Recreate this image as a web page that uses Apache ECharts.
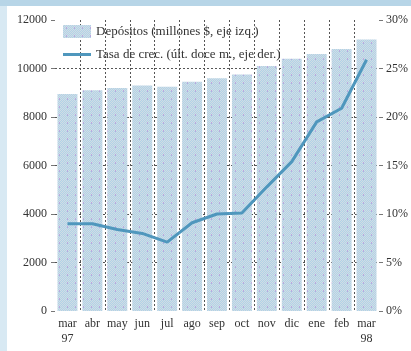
<!DOCTYPE html>
<html>
<head>
<meta charset="utf-8">
<script src="https://cdn.jsdelivr.net/npm/echarts@6/dist/echarts.min.js"></script>
<style>
  html, body { margin: 0; padding: 0; background: #ffffff; }
  #chart { width: 411px; height: 351px; }
</style>
</head>
<body>
<div id="chart"></div>
<script>
// Months from March 1997 to March 1998
const meses = ['mar\n97', 'abr', 'may', 'jun', 'jul', 'ago', 'sep', 'oct', 'nov', 'dic', 'ene', 'feb', 'mar\n98'];
// Deposits, millions of $ (left axis)
const depositos = [8950, 9100, 9200, 9300, 9250, 9450, 9600, 9750, 10100, 10400, 10600, 10800, 11200];
// Growth rate, % (right axis)
const crecimiento = [9.0, 9.0, 8.4, 8.0, 7.1, 9.1, 10.0, 10.1, 12.8, 15.4, 19.5, 20.9, 25.9];

const serieDepositos = 'Depósitos (millones $, eje izq.)';
const serieTasa = 'Tasa de crec. (últ. doce m., eje der.)';

// Small stippled tile used to fill the bars
function tramaBarras() {
  const c = document.createElement('canvas');
  c.width = 8; c.height = 8;
  const g = c.getContext('2d');
  for (let y = 0; y < 8; y++) {
    for (let x = 0; x < 8; x++) {
      g.fillStyle = ((x + y) % 2) ? '#b0d3e8' : '#d2dce4';
      g.fillRect(x, y, 1, 1);
    }
  }
  g.fillStyle = '#b9a9de';
  g.fillRect(3, 2, 1, 2);
  return c;
}

const serif = '"Liberation Serif", "DejaVu Serif", serif';
const colorTasa = '#4f97bd';
const guia = { color: '#555555', width: 1, type: [2, 2] };
const chart = echarts.init(document.getElementById('chart'), null, { renderer: 'canvas' });

chart.setOption({
  animation: false,
  backgroundColor: '#ffffff',
  graphic: [
    { type: 'rect', left: 0, top: 0, shape: { width: 411, height: 6 }, style: { fill: '#b7d5e7' }, z: 10 },
    { type: 'rect', left: 0, top: 6, shape: { width: 7, height: 345 }, style: { fill: '#d8e9f3' }, z: 10 }
  ],
  grid: { left: 55, right: 30, top: 20, bottom: 40 },
  legend: {
    orient: 'vertical',
    left: 58,
    top: 20,
    itemWidth: 28,
    itemHeight: 13,
    itemGap: 10,
    data: [
      { name: serieDepositos, icon: 'rect' },
      { name: serieTasa, icon: 'path://M0,0H28V3H0Z' }
    ],
    textStyle: { fontFamily: serif, fontSize: 13, color: '#333333' }
  },
  xAxis: {
    type: 'category',
    data: meses,
    axisLine: { show: false },
    axisTick: { show: false },
    axisLabel: { interval: 0, fontFamily: serif, fontSize: 12, color: '#333333', margin: 5, lineHeight: 15 },
    splitLine: { show: true, interval: 0, showMinLine: false, showMaxLine: false, lineStyle: guia }
  },
  yAxis: [
    {
      type: 'value', min: 0, max: 12000, interval: 2000,
      axisLine: { show: false },
      axisTick: { show: true, length: 4, lineStyle: { color: '#777777' } },
      axisLabel: { fontFamily: serif, fontSize: 12, color: '#333333', margin: 8, formatter: v => String(v) },
      splitLine: { show: true, showMinLine: false, showMaxLine: false, lineStyle: guia }
    },
    {
      type: 'value', min: 0, max: 30, interval: 5, position: 'right',
      axisLine: { show: false },
      axisTick: { show: true, length: 4, lineStyle: { color: '#777777' } },
      axisLabel: { fontFamily: serif, fontSize: 12, color: '#333333', margin: 7, formatter: '{value}%' },
      splitLine: { show: false }
    }
  ],
  series: [
    {
      name: serieDepositos,
      type: 'bar',
      data: depositos,
      barCategoryGap: '20%',
      itemStyle: { color: { image: tramaBarras(), repeat: 'repeat' } }
    },
    {
      name: serieTasa,
      type: 'line',
      yAxisIndex: 1,
      data: crecimiento,
      symbol: 'none',
      lineStyle: { color: colorTasa, width: 3 },
      itemStyle: { color: colorTasa }
    }
  ]
});
</script>
</body>
</html>
